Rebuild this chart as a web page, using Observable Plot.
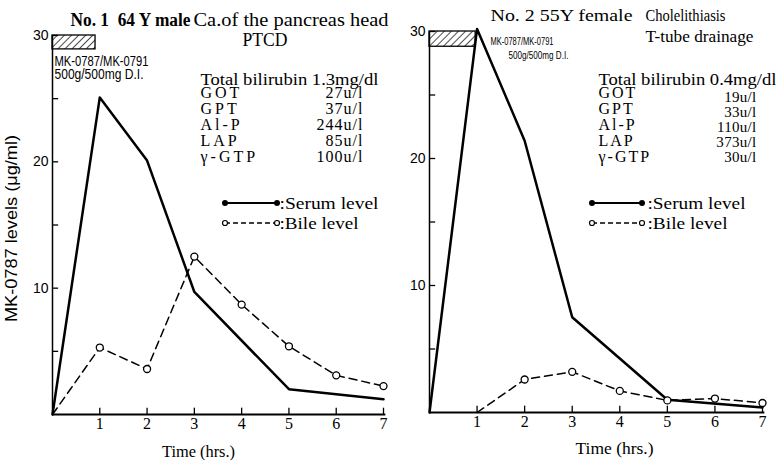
<!DOCTYPE html>
<html><head><meta charset="utf-8">
<script src="https://cdn.jsdelivr.net/npm/d3@7"></script>
<script src="https://cdn.jsdelivr.net/npm/@observablehq/plot@0.6"></script>
<style>
html,body{margin:0;padding:0;background:#fff;}
#wrap{display:flex;width:777px;height:460px;overflow:hidden;}
#wrap svg{flex:none;overflow:visible;}
</style></head>
<body><div id="wrap"></div>
<script>
// ---------- data ----------
const xTicks = [1, 2, 3, 4, 5, 6, 7];
const yTicks = [10, 20, 30];
const yMinorTicks = [5, 15, 25];
const labNames = ["GOT", "GPT", "Al-P", "LAP", "γ-GTP"];
const drugLines = ["MK-0787/MK-0791", "500g/500mg D.I."];
const legendLabels = [":Serum level", ":Bile level"];
const yLabel = "MK-0787 levels (μg/ml)";
const xLabel = "Time (hrs.)";

// Case 1
const case1Title = ["No. 1  64 Y male", "Ca.of the pancreas head"];
const case1Procedure = "PTCD";
const case1Bilirubin = "Total bilirubin 1.3mg/dl";
const case1LabValues = ["27u/l", "37u/l", "244u/l", "85u/l", "100u/l"];
const case1SerumHours = [0, 1, 2, 3, 5, 7];
const case1Serum = [0, 25.1, 20.1, 9.7, 2.0, 1.2];
const case1BileHours = [0, 1, 2, 3, 4, 5, 6, 7];
const case1Bile = [0, 5.3, 3.6, 12.5, 8.7, 5.4, 3.1, 2.25];
const case1InfusionHours = [0, 0.91];
const case1InfusionBand = [28.9, 30];

// Case 2
const case2Title = ["No. 2 55Y female", "Cholelithiasis"];
const case2Procedure = "T-tube drainage";
const case2Bilirubin = "Total bilirubin 0.4mg/dl";
const case2LabValues = ["19u/l", "33u/l", "110u/l", "373u/l", "30u/l"];
const case2SerumHours = [0, 1, 2, 3, 5, 7];
const case2Serum = [0, 30.2, 21.4, 7.5, 1.0, 0.4];
const case2BileHours = [1, 2, 3, 4, 5, 6, 7];
const case2Bile = [0, 2.6, 3.2, 1.7, 0.95, 1.1, 0.75];
const case2InfusionHours = [0, 0.97];
const case2InfusionBand = [28.8, 30];

// ---------- drawing ----------
const SERIF = "'Liberation Serif', 'DejaVu Serif', serif";
const SANS = "'Liberation Sans', 'DejaVu Sans', sans-serif";
const NARROW = "'Liberation Sans Narrow', 'Liberation Sans', sans-serif";

function hatchDefs(id) {
  return () => {
    const g = d3.create("svg:g");
    const p = g.append("defs").append("pattern").attr("id", id)
      .attr("patternUnits", "userSpaceOnUse").attr("width", 5).attr("height", 5)
      .attr("patternTransform", "rotate(45)");
    p.append("rect").attr("width", 5).attr("height", 5).attr("fill", "white");
    p.append("line").attr("x1", 0).attr("y1", 0).attr("x2", 0).attr("y2", 5)
      .attr("stroke", "black").attr("stroke-width", 1.4);
    return g.node();
  };
}

function legendMark(x1, x2, ys) {
  return () => {
    const g = d3.create("svg:g");
    g.append("line").attr("x1", x1).attr("x2", x2).attr("y1", ys[0]).attr("y2", ys[0])
      .attr("stroke", "black").attr("stroke-width", 2.2);
    for (const x of [x1, x2]) g.append("circle").attr("cx", x).attr("cy", ys[0]).attr("r", 3).attr("fill", "black");
    g.append("line").attr("x1", x1).attr("x2", x2).attr("y1", ys[1]).attr("y2", ys[1])
      .attr("stroke", "black").attr("stroke-width", 1.3).attr("stroke-dasharray", "5,3");
    for (const x of [x1, x2]) g.append("circle").attr("cx", x).attr("cy", ys[1]).attr("r", 2.5)
      .attr("fill", "white").attr("stroke", "black").attr("stroke-width", 1.2);
    return g.node();
  };
}

function panel(c, L) {
  const serum = c.serumHours.map((h, i) => ({h, v: c.serum[i]}));
  const bile = c.bileHours.map((h, i) => ({h, v: c.bile[i]}));
  const at = (X, Y) => ({dx: X - L.ml, dy: Y - L.mt});
  const txt = (s, X, Y, o = {}) => Plot.text([s], {
    text: d => d, frameAnchor: "top-left", lineAnchor: "bottom", textAnchor: "start",
    fontFamily: SERIF, fontSize: 16, ...at(X, Y), ...o
  });
  const marks = [
    hatchDefs(L.id),
    Plot.rect([0], {x1: () => c.infusion[0], x2: () => c.infusion[1], y1: () => c.band[0], y2: () => c.band[1],
      fill: `url(#${L.id})`, stroke: "black", strokeWidth: 1.3}),
    Plot.ruleX([0], {y1: 0, y2: 30, strokeWidth: 1.5}),
    Plot.ruleY([0], {x1: 0, x2: 7.05, strokeWidth: 2}),
    Plot.ruleY(yTicks.concat(yMinorTicks), {y: d => d, x1: 0, x2: 0.13, strokeWidth: 1.3}),
    Plot.ruleX(xTicks, {x: d => d, y1: 0, y2: 0.5, strokeWidth: 1.3}),
    Plot.axisY({ticks: yTicks, tickSize: 0, tickPadding: 4, label: null, fontFamily: SANS, fontSize: 14, tickFormat: d3.format("d")}),
    Plot.axisX({ticks: xTicks, tickSize: 0, tickPadding: 3, label: null, fontFamily: SERIF, fontSize: 16, tickFormat: d3.format("d")}),
    Plot.line(serum, {x: "h", y: "v", strokeWidth: 2.5}),
    Plot.line(bile, {x: "h", y: "v", strokeWidth: 1.5, strokeDasharray: "8,5"}),
    Plot.dot(bile.filter(d => d.v > 0), {x: "h", y: "v", r: 3.5, fill: "white", stroke: "black", strokeWidth: 1.3}),
    txt(c.title[0], L.titleA[0], L.titleA[1], {fontSize: L.titleAsize, fontWeight: L.titleAweight}),
    txt(c.title[1], L.titleB[0], L.titleB[1], {fontSize: L.titleBsize}),
    txt(c.procedure, L.proc[0], L.proc[1], {fontSize: L.procSize}),
    txt(drugLines[0], L.drug1[0], L.drug1[1], {fontFamily: NARROW, fontSize: L.drugSize}),
    txt(drugLines[1], L.drug2[0], L.drug2[1], {fontFamily: NARROW, fontSize: L.drugSize}),
    txt(c.bilirubin, L.bili[0], L.bili[1]),
    txt(labNames.join("\n"), L.lab[0], L.lab[1], {lineHeight: 1}),
    txt(c.labValues.join("\n"), L.labEnd, L.lab[1], {lineHeight: 1, textAnchor: "end", fontSize: L.valSize}),
    legendMark(L.leg[0], L.leg[1], L.legY),
    txt(legendLabels[0], L.leg[2], L.legY[0], {lineAnchor: "middle"}),
    txt(legendLabels[1], L.leg[2], L.legY[1], {lineAnchor: "middle"}),
    txt(xLabel, L.xlab[0], L.xlab[1], {lineAnchor: "middle", textAnchor: "middle"})
  ];
  if (L.ylab) marks.push(txt(yLabel, L.ylab[0], L.ylab[1], {lineAnchor: "middle", textAnchor: "middle",
    rotate: -90, fontFamily: SANS, fontSize: 16}));
  const svg = Plot.plot({
    width: L.width, height: 460,
    marginLeft: L.ml, marginRight: L.mr, marginTop: L.mt, marginBottom: L.mb,
    x: {domain: [0, 7]}, y: {domain: [0, 30]},
    style: {fontFamily: SERIF, background: "white", color: "black", overflow: "visible", maxWidth: "none"},
    marks
  });
  // fit annotation widths to the reference and space the lab table
  const fit = new Map(L.fit);
  d3.select(svg).selectAll("text").each(function () {
    const t = this.textContent;
    if (fit.has(t)) {
      this.setAttribute("textLength", fit.get(t));
      this.setAttribute("lengthAdjust", "spacingAndGlyphs");
    }
    if (t === labNames.join("")) this.style.letterSpacing = L.labSp + "px";
    if (t === c.labValues.join("")) this.style.letterSpacing = L.valSp + "px";
  });
  return svg;
}

const wrap = document.getElementById("wrap");
wrap.appendChild(panel({
  title: case1Title, procedure: case1Procedure, bilirubin: case1Bilirubin, labValues: case1LabValues,
  serumHours: case1SerumHours, serum: case1Serum, bileHours: case1BileHours, bile: case1Bile,
  infusion: case1InfusionHours, band: case1InfusionBand
}, {
  id: "hatch1", width: 390, ml: 52, mr: 7, mt: 35, mb: 46,
  titleA: [70, 25], titleAsize: 18, titleAweight: "bold",
  titleB: [193, 25], titleBsize: 18,
  proc: [242, 45], procSize: 18,
  drug1: [54, 65], drug2: [54, 78], drugSize: 14,
  bili: [200, 84], lab: [200, 161], labEnd: 363, valSize: 16, labSp: 3, valSp: 1,
  leg: [225, 277, 279], legY: [203, 223],
  xlab: [198, 451], ylab: [11, 228],
  fit: [[case1Title[0], 120], [case1Title[1], 195], [case1Procedure, 45],
        [drugLines[0], 94], [drugLines[1], 89], [case1Bilirubin, 178],
        [legendLabels[0], 99], [legendLabels[1], 79], [xLabel, 73], [yLabel, 187]]
}));
wrap.appendChild(panel({
  title: case2Title, procedure: case2Procedure, bilirubin: case2Bilirubin, labValues: case2LabValues,
  serumHours: case2SerumHours, serum: case2Serum, bileHours: case2BileHours, bile: case2Bile,
  infusion: case2InfusionHours, band: case2InfusionBand
}, {
  id: "hatch2", width: 387, ml: 39, mr: 15, mt: 31, mb: 48,
  titleA: [100, 20], titleAsize: 16, titleAweight: "normal",
  titleB: [255, 20], titleBsize: 17,
  proc: [255, 41], procSize: 16,
  drug1: [100, 44], drug2: [118, 58], drugSize: 11,
  bili: [208, 84], lab: [208, 161], labEnd: 366, valSize: 15, labSp: 2, valSp: 0.3,
  leg: [202, 252, 257], legY: [203, 223],
  xlab: [224, 448],
  fit: [[case2Title[0], 142], [case2Title[1], 80], [case2Procedure, 108],
        [drugLines[0], 63], [drugLines[1], 60], [case2Bilirubin, 178],
        [legendLabels[0], 98], [legendLabels[1], 80], [xLabel, 78]]
}));
</script>
</body></html>
